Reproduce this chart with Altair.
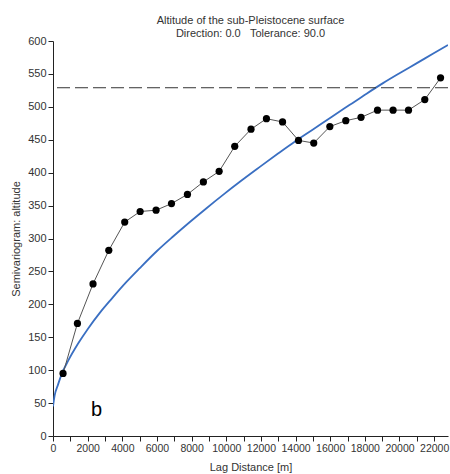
import altair as alt
import pandas as pd

# Experimental semivariogram (lag distance [m], semivariance)
lag = [580, 1410, 2310, 3220, 4140, 5030, 5950, 6840, 7760, 8680, 9590, 10490, 11430,
       12320, 13250, 14170, 15050, 15980, 16900, 17780, 18730, 19630, 20520, 21460, 22370]
gamma = [95, 171, 231, 282, 325, 341, 343, 353, 367, 386, 402, 440, 466,
         482, 477, 449, 445, 470, 479, 484, 495, 495, 495, 511, 544]

# Fitted model curve
model_h = [0, 100, 290, 500, 870, 1440, 2020, 2700, 3370, 4240, 5010, 6000, 6930, 7900,
           8860, 9850, 10880, 11900, 12990, 13950, 14920, 16100, 17130, 18100, 19050,
           20000, 20980, 21950, 22800]
model_g = [45, 62, 78, 94, 114, 140, 163, 187, 208, 234, 255, 281, 303, 325,
           346, 367, 388, 408, 429, 447, 464, 485, 503, 520, 536,
           551, 566, 581, 594]

sill = [529]
panel_label = ["b"]
label_pos = [(2520, 40)]

x_ticks = list(range(0, 23000, 1000))
y_ticks = list(range(0, 650, 50))

FONT = "Liberation Sans"
TXT = "#333333"
NB = "\u00a0"

pts = pd.DataFrame({"h": lag, "g": gamma})
mdl = pd.DataFrame({"h": model_h, "g": model_g})
sill_df = pd.DataFrame({"s": sill})
lab_df = pd.DataFrame({"t": panel_label, "h": [p[0] for p in label_pos], "g": [p[1] for p in label_pos]})

xscale = alt.Scale(domain=[0, 22800], nice=False, zero=True)
yscale = alt.Scale(domain=[0, 600], nice=False)

xaxis = alt.Axis(values=x_ticks, title="Lag Distance [m]", grid=False,
                 labelExpr="datum.value % 2000 == 0 ? '' + datum.value : ''",
                 labelFlush=False, labelOverlap=False, labelBound=False)
yaxis = alt.Axis(values=y_ticks, title="Semivariogram: altitude", grid=False,
                 labelOverlap=False)

x_enc = alt.X("h:Q", scale=xscale, axis=xaxis)
y_enc = alt.Y("g:Q", scale=yscale, axis=yaxis)

model_line = alt.Chart(mdl).mark_line(color="#3A6FC2", strokeWidth=1.8, clip=True,
                                      interpolate="monotone").encode(x=x_enc, y=y_enc)

exp_line = alt.Chart(pts).mark_line(color="#555555", strokeWidth=1).encode(x=x_enc, y=y_enc)
exp_pts = alt.Chart(pts).mark_circle(color="black", size=52, opacity=1).encode(x=x_enc, y=y_enc)

sill_rule = alt.Chart(sill_df).mark_rule(color="#333333", strokeWidth=1, strokeDash=[13, 5]).encode(
    y=alt.Y("s:Q", scale=yscale, axis=yaxis)
)

label = alt.Chart(lab_df).mark_text(fontSize=20, font=FONT, fontWeight="normal", color="black").encode(
    x=x_enc, y=y_enc, text="t:N"
)

chart = alt.layer(model_line, sill_rule, exp_line, exp_pts, label).properties(
    width=395, height=395,
    autosize=alt.AutoSizeParams(type="none"),
    padding={"left": 53, "top": 41, "right": 2, "bottom": 38},
    title=alt.TitleParams(
        text=["Altitude of the sub-Pleistocene surface",
              "Direction: 0.0" + NB * 3 + "Tolerance: 90.0"],
        fontSize=11, font=FONT, fontWeight="normal", color=TXT, anchor="middle",
        lineHeight=13, offset=-4,
    ),
).configure_view(stroke=None).configure_axis(
    domainColor="#222222", tickColor="#222222", tickSize=5,
    labelFont=FONT, labelFontSize=11, labelColor=TXT, labelPadding=2,
    titleFont=FONT, titleFontSize=11, titleColor=TXT, titleFontWeight="normal",
    labelOverlap=False,
).configure_axisX(titlePadding=8, labelFontSize=10.5).configure_axisY(titlePadding=6)

chart.save("out.html", embed_options={"renderer": "svg", "actions": False})
